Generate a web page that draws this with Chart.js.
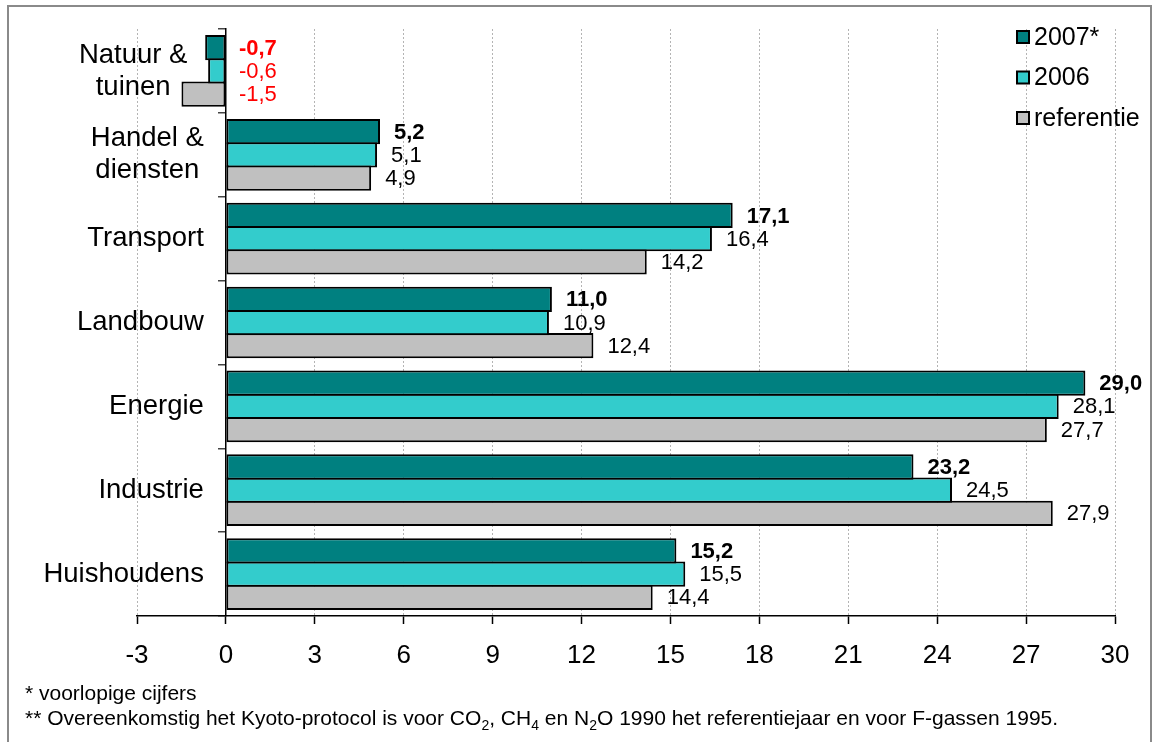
<!DOCTYPE html>
<html>
<head>
<meta charset="utf-8">
<script src="https://cdn.jsdelivr.net/npm/chart.js@4"></script>
<style>
  html, body { margin: 0; padding: 0; background: #fff; }
  body { width: 1154px; height: 742px; position: relative; overflow: hidden; font-family: Arial, "Liberation Sans", sans-serif; }
  #chart { position: absolute; left: 0; top: 0; }
  #frame { position: absolute; left: 7px; top: 5px; width: 1141px; height: 760px; border: 2px solid #8a8a8a; pointer-events: none; }
  #notes { position: absolute; left: 25px; top: 680px; font-size: 21px; line-height: 25px; color: #000; }
  #notes sub { font-size: 14px; line-height: 0; vertical-align: -5px; }
</style>
</head>
<body>
<canvas id="chart" width="1154" height="742"></canvas>
<div id="frame"></div>
<div id="notes">
  <div>* voorlopige cijfers</div>
  <div>** Overeenkomstig het Kyoto-protocol is voor CO<sub>2</sub>, CH<sub>4</sub> en N<sub>2</sub>O 1990 het referentiejaar en voor F-gassen 1995.</div>
</div>
<script>
const categories = [["Natuur &", "tuinen"], ["Handel &", "diensten"], ["Transport"], ["Landbouw"], ["Energie"], ["Industrie"], ["Huishoudens"]];
const seriesNames = ["2007*", "2006", "referentie"];
const values2007 = [-0.7, 5.2, 17.1, 11.0, 29.0, 23.2, 15.2];
const values2006 = [-0.6, 5.1, 16.4, 10.9, 28.1, 24.5, 15.5];
const valuesRef = [-1.5, 4.9, 14.2, 12.4, 27.7, 27.9, 14.4];
const xMin = -3, xMax = 30, xStep = 3;

const FONT = "Arial, 'Liberation Sans', sans-serif";
const colors = ["#008080", "#33CCCC", "#C0C0C0"];
const seriesValues = [values2007, values2006, valuesRef];

// category names left of the bars, lines centred within the block
const categoryLabels = {
  id: "categoryLabels",
  afterDraw(chart) {
    const ctx = chart.ctx;
    const y = chart.scales.y, x = chart.scales.x;
    ctx.save();
    ctx.font = "27.5px " + FONT;
    ctx.fillStyle = "#000";
    ctx.textAlign = "center";
    ctx.textBaseline = "middle";
    chart.data.labels.forEach((lines, i) => {
      const lowest = Math.min(0, ...seriesValues.map(s => s[i]));
      const right = Math.min(x.getPixelForValue(0) - 22, x.getPixelForValue(lowest) + 6);
      const w = Math.max(...lines.map(l => ctx.measureText(l).width));
      const cx = right - w / 2;
      const cy = y.getPixelForValue(i);
      lines.forEach((l, j) => {
        ctx.fillText(l, cx, cy + (j - (lines.length - 1) / 2) * 32);
      });
    });
    ctx.restore();
  }
};

// value labels after the bar ends, 2007 in bold, negatives in red
const valueLabels = {
  id: "valueLabels",
  afterDatasetsDraw(chart) {
    const ctx = chart.ctx;
    const zero = chart.scales.x.getPixelForValue(0);
    ctx.save();
    ctx.textAlign = "left";
    ctx.textBaseline = "middle";
    chart.data.datasets.forEach((ds, di) => {
      const meta = chart.getDatasetMeta(di);
      ctx.font = (di === 0 ? "bold " : "") + "22px " + FONT;
      meta.data.forEach((bar, i) => {
        const v = ds.data[i];
        const txt = v.toFixed(1).replace(".", ",");
        ctx.fillStyle = v < 0 ? "#ff0000" : "#000";
        const px = v < 0 ? zero + 13 : bar.x + 14;
        ctx.fillText(txt, px, bar.y + 1);
      });
    });
    ctx.restore();
  }
};

const boxLegend = {
  id: "boxLegend",
  afterDraw(chart) {
    const ctx = chart.ctx;
    ctx.save();
    ctx.font = "25px " + FONT;
    ctx.textBaseline = "middle";
    ctx.textAlign = "left";
    chart.data.datasets.forEach((ds, i) => {
      const cy = 37 + i * 40.5;
      ctx.fillStyle = ds.backgroundColor;
      ctx.fillRect(1017, cy - 6, 12, 12);
      ctx.lineWidth = 2;
      ctx.strokeStyle = "#000";
      ctx.strokeRect(1017, cy - 6, 12, 12);
      ctx.fillStyle = "#000";
      ctx.fillText(ds.label, 1034, cy + 1);
    });
    ctx.restore();
  }
};

new Chart(document.getElementById("chart"), {
  type: "bar",
  data: {
    labels: categories,
    datasets: seriesNames.map((name, i) => ({
      label: name,
      data: seriesValues[i],
      backgroundColor: colors[i],
      borderColor: "#000",
      borderWidth: 2,
      borderSkipped: false,
      categoryPercentage: 0.83,
      barPercentage: 1.09
    }))
  },
  options: {
    indexAxis: "y",
    responsive: false,
    animation: false,
    layout: { padding: { left: 137, right: 39, top: 29, bottom: 0 } },
    plugins: { legend: { display: false }, tooltip: { enabled: false } },
    scales: {
      x: {
        type: "linear",
        min: xMin,
        max: xMax,
        ticks: {
          stepSize: xStep,
          padding: 16,
          color: "#000",
          font: { size: 26, family: FONT },
          callback: v => String(v)
        },
        grid: {
          color: "#b4b4b4",
          lineWidth: 1,
          tickLength: 8,
          tickColor: "#000",
          tickWidth: 1.5,
          tickBorderDash: []
        },
        border: { display: true, color: "#000", width: 1.5, dash: [2, 2] },
        afterFit(s) { s.height = 742 - 616; }
      },
      y: {
        type: "category",
        position: { x: 0 },
        offset: true,
        ticks: { display: false },
        grid: {
          drawOnChartArea: false,
          drawTicks: true,
          tickLength: 7,
          color: "#444",
          tickColor: "#444",
          lineWidth: 1.5,
          offset: true
        },
        border: { display: true, color: "#000", width: 1.5 },
        afterFit(s) { s.paddingTop = 0; s.paddingBottom = 0; }
      }
    }
  },
  plugins: [categoryLabels, valueLabels, boxLegend]
});
</script>
</body>
</html>
